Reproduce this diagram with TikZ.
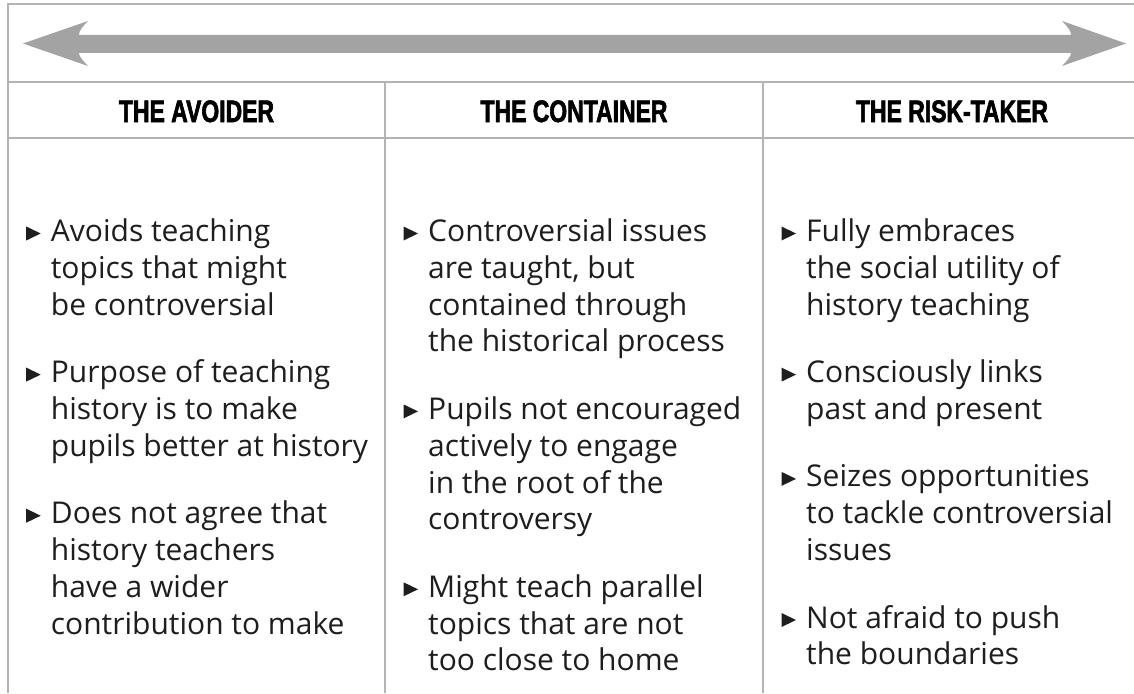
\documentclass[tikz,border=0pt]{standalone}
\usepackage{fontspec}
\setmainfont{Open Sans}
\newfontfamily\headfont[FakeStretch=0.74,BoldFeatures={FakeBold=2}]{Liberation Sans}
\usetikzlibrary{calc}
\definecolor{rule}{HTML}{B4B4B4}
\definecolor{arrowgray}{HTML}{A3A3A3}
\definecolor{ink}{HTML}{1E1E1E}
\tikzset{
  rulel/.style={draw=rule, line width=2pt},
  head/.style={anchor=base, inner sep=0pt, font=\headfont\bfseries\fontsize{31}{31}\selectfont, text=black},
  item/.style={anchor=base west, inner sep=0pt, font=\fontsize{30}{36.8}\selectfont, text=ink},
}
\newcommand\bul[1]{\fill[ink] ($(#1.base west)+(-24.5,-15)$) -- ++(0,14) -- ++(14.5,-7) -- cycle;}
\begin{document}
\begin{tikzpicture}[x=1pt,y=-1pt]
\useasboundingbox (0,0) rectangle (1134,693);
\fill[white] (0,0) rectangle (1134,693);
% frame and rules
\draw[rulel] (1134,4) -- (8,4) -- (8,693);
\draw[rulel] (8,82) -- (1134,82);
\draw[rulel] (8,138) -- (1134,138);
\draw[rulel] (385,82) -- (385,693);
\draw[rulel] (763,82) -- (763,693);
% double arrow
\fill[arrowgray] (23,43.5) -- (88,21) .. controls (82,27) and (79,31) .. (79,35)
  -- (1071,35) .. controls (1071,31) and (1068,27) .. (1062,21) -- (1126,43.5)
  -- (1062,66) .. controls (1068,60) and (1071,56) .. (1071,53)
  -- (79,53) .. controls (79,56) and (82,60) .. (88,66) -- cycle;
% headers
\node[head] (h1) at (196.5,122) {THE AVOIDER};
\node[head] (h2) at (574,122) {THE CONTAINER};
\node[head] (h3) at (952,122) {THE RISK-TAKER};
% column 1
\node[item] (c1a) at (50.7,241.5) {\vtop{\halign{#\hfil\cr Avoids teaching\cr topics that might\cr be controversial\cr}}};
\node[item] (c1b) at (50.7,382.6) {\vtop{\halign{#\hfil\cr Purpose of teaching\cr history is to make\cr pupils better at history\cr}}};
\node[item] (c1c) at (50.7,523.7) {\vtop{\halign{#\hfil\cr Does not agree that\cr history teachers\cr have a wider\cr contribution to make\cr}}};
% column 2
\node[item] (c2a) at (428,241.5) {\vtop{\halign{#\hfil\cr Controversial issues\cr are taught, but\cr contained through\cr the historical process\cr}}};
\node[item] (c2b) at (428,419.4) {\vtop{\halign{#\hfil\cr Pupils not encouraged\cr actively to engage\cr in the root of the\cr controversy\cr}}};
\node[item] (c2c) at (428,597.3) {\vtop{\halign{#\hfil\cr Might teach parallel\cr topics that are not\cr too close to home\cr}}};
% column 3
\node[item] (c3a) at (806,241.5) {\vtop{\halign{#\hfil\cr Fully embraces\cr the social utility of\cr history teaching\cr}}};
\node[item] (c3b) at (806,382.6) {\vtop{\halign{#\hfil\cr Consciously links\cr past and present\cr}}};
\node[item] (c3c) at (806,486.9) {\vtop{\halign{#\hfil\cr Seizes opportunities\cr to tackle controversial\cr issues\cr}}};
\node[item] (c3d) at (806,628) {\vtop{\halign{#\hfil\cr Not afraid to push\cr the boundaries\cr}}};
\bul{c1a}\bul{c1b}\bul{c1c}
\bul{c2a}\bul{c2b}\bul{c2c}
\bul{c3a}\bul{c3b}\bul{c3c}\bul{c3d}
\end{tikzpicture}
\end{document}
